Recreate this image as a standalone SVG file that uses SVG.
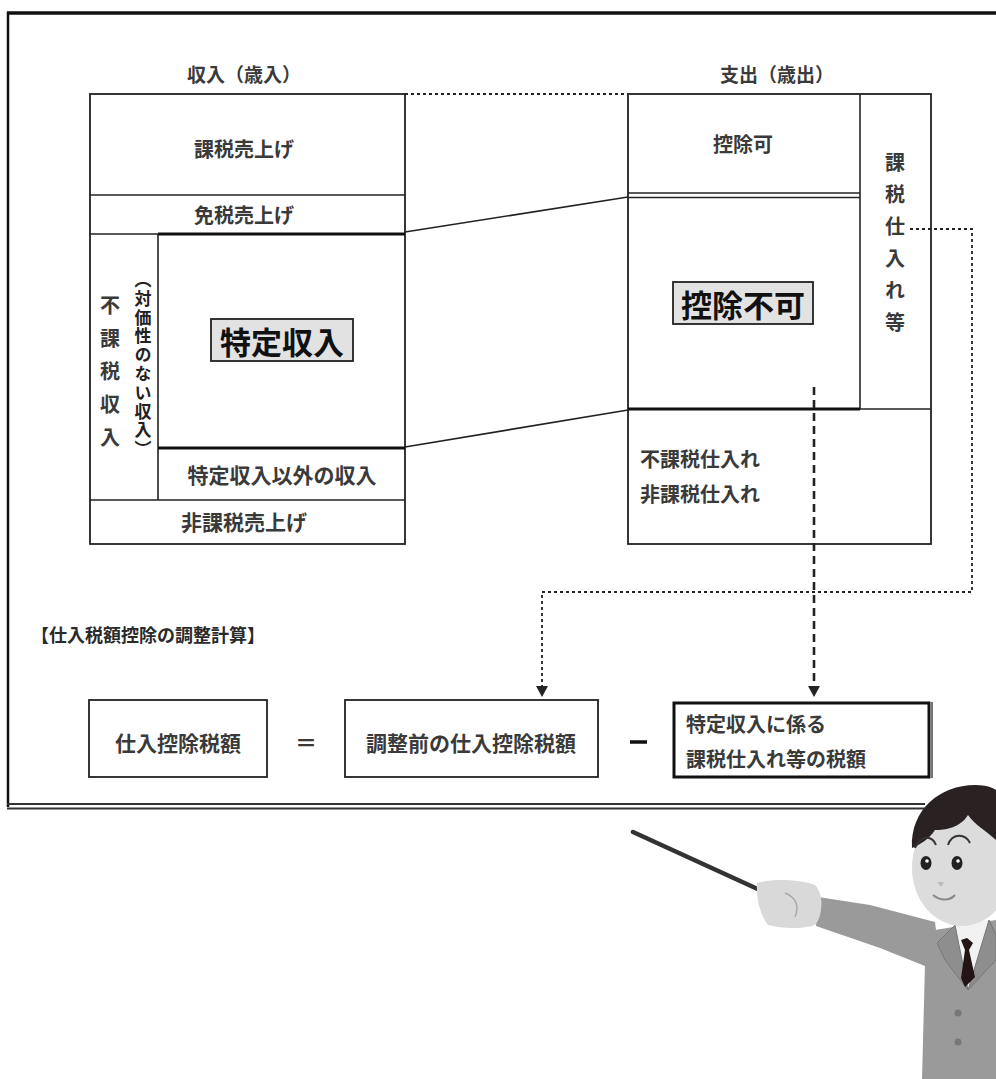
<svg xmlns="http://www.w3.org/2000/svg" width="996" height="1079" viewBox="0 0 996 1079">
  <defs>
    <style>
      .t { font-family: "Noto Sans CJK JP", "Noto Sans", sans-serif; font-weight: bold; fill: #3a3a3a; }
      .c { text-anchor: middle; dominant-baseline: central; }
      .v { writing-mode: vertical-rl; text-anchor: start; }
      .ln { stroke: #222; stroke-width: 1.6; fill: none; }
      .thick { stroke: #111; stroke-width: 3; fill: none; }
      .dot { stroke: #222; stroke-width: 1.8; stroke-dasharray: 3 3; fill: none; }
      .dash { stroke: #222; stroke-width: 2.6; stroke-dasharray: 8 5; fill: none; }
      .box { fill: #fff; stroke: #222; stroke-width: 1.8; }
      .head { fill: #222; }
    </style>
  </defs>

  <rect width="996" height="1079" fill="#fff"/>

  <!-- board frame -->
  <g id="board">
    <line x1="7" y1="13" x2="996" y2="13" stroke="#111" stroke-width="3.5"/>
    <line x1="8" y1="12" x2="8" y2="807" stroke="#111" stroke-width="2.5"/>
    <line x1="7" y1="804" x2="925" y2="804" stroke="#333" stroke-width="1.8"/>
    <line x1="7" y1="808.5" x2="925" y2="808.5" stroke="#333" stroke-width="1.8"/>
  </g>

  <!-- revenue column -->
  <g id="revenue">
    <text class="t c" x="244" y="73" font-size="19">収入（歳入）</text>
    <rect class="box" x="90" y="94" width="315" height="450"/>
    <line class="ln" x1="90" y1="195" x2="405" y2="195"/>
    <text class="t c" x="244" y="148" font-size="20">課税売上げ</text>
    <text class="t c" x="244" y="214" font-size="20">免税売上げ</text>
    <line class="ln" x1="90" y1="234" x2="158" y2="234"/>
    <line class="thick" x1="158" y1="234" x2="405" y2="234"/>
    <line class="ln" x1="158" y1="234" x2="158" y2="500"/>
    <line class="thick" x1="158" y1="448" x2="405" y2="448"/>
    <line class="ln" x1="90" y1="500" x2="405" y2="500"/>
    <text class="t c" x="282" y="474" font-size="21">特定収入以外の収入</text>
    <text class="t c" x="244" y="521" font-size="21">非課税売上げ</text>
    <!-- vertical labels -->
    <text class="t v" x="110" y="295" font-size="20" letter-spacing="13">不課税収入</text>
    <text class="t v" x="143" y="271" font-size="17" letter-spacing="1.8" style="fill:#222">（対価性のない収入）</text>
  </g>

  <g id="specific-income">
    <rect x="211" y="319" width="142" height="42" fill="#e2e2e2" stroke="#222" stroke-width="1.8"/>
    <text class="t c" x="282" y="340" font-size="31" style="fill:#111">特定収入</text>
  </g>

  <!-- expenditure column -->
  <g id="expenditure">
    <text class="t c" x="777" y="73" font-size="19">支出（歳出）</text>
    <rect class="box" x="628" y="94" width="303" height="450"/>
    <line class="ln" x1="860" y1="94" x2="860" y2="409"/>
    <line class="ln" x1="628" y1="193" x2="860" y2="193"/>
    <line class="ln" x1="628" y1="197.5" x2="860" y2="197.5"/>
    <text class="t c" x="743" y="143" font-size="20">控除可</text>
    <line class="thick" x1="628" y1="409" x2="860" y2="409"/>
    <line class="ln" x1="860" y1="409" x2="931" y2="409"/>
    <text class="t" x="640" y="467" font-size="20">不課税仕入れ</text>
    <text class="t" x="640" y="502" font-size="20">非課税仕入れ</text>
    <text class="t v" x="895" y="152" font-size="20" letter-spacing="12">課税仕入れ等</text>
  </g>

  <g id="non-deductible">
    <rect x="673" y="282" width="140" height="42" fill="#e2e2e2" stroke="#222" stroke-width="1.8"/>
    <text class="t c" x="743" y="303" font-size="31" style="fill:#111">控除不可</text>
  </g>

  <!-- adjustment formula -->
  <g id="formula-title">
    <text class="t" x="31" y="642" font-size="18" style="fill:#2a2a2a">【仕入税額控除の調整計算】</text>
  </g>
  <g id="deduction">
    <rect class="box" x="89" y="700" width="178" height="77"/>
    <text class="t c" x="178" y="742" font-size="21">仕入控除税額</text>
  </g>
  <g id="equals">
    <text class="t c" x="306" y="741" font-size="22">＝</text>
  </g>
  <g id="before-adjust">
    <rect class="box" x="345" y="700" width="253" height="77"/>
    <text class="t c" x="471" y="742" font-size="21">調整前の仕入控除税額</text>
  </g>
  <g id="minus">
    <line x1="630" y1="742" x2="647" y2="742" stroke="#111" stroke-width="3.5"/>
  </g>
  <g id="specific-tax">
    <rect x="674" y="703" width="255" height="74" fill="#fff" stroke="#111" stroke-width="3"/>
    <line x1="932" y1="702" x2="932" y2="778" stroke="#444" stroke-width="1.5"/>
    <text class="t" x="686" y="732" font-size="20">特定収入に係る</text>
    <text class="t" x="686" y="767" font-size="20">課税仕入れ等の税額</text>
  </g>

  <!-- connectors -->
  <g id="connectors">
    <line class="dot" x1="405" y1="94" x2="628" y2="94"/>
    <line class="ln" x1="405" y1="232" x2="628" y2="197"/>
    <line class="ln" x1="405" y1="447" x2="628" y2="410"/>
    <polyline class="dot" points="910,229 972,229 972,592 542,592 542,688"/>
    <path class="head" d="M536,686 L548,686 L542,697 Z"/>
    <line class="dash" x1="814" y1="387" x2="814" y2="688"/>
    <path class="head" d="M808,686 L820,686 L814,697 Z"/>
  </g>

  <!-- presenter figure -->
  <g id="presenter">
    <!-- pointer -->
    <line x1="633" y1="832" x2="762" y2="891" stroke="#333" stroke-width="4.5" stroke-linecap="round"/>
    <!-- body -->
    <path d="M922,1079 L925,965 L935,930 L996,920 L996,1079 Z" fill="#9a9a9a"/>
    <!-- arm -->
    <path d="M818,897 L870,905 L935,922 L940,962 L925,966 L880,948 L816,926 Z" fill="#9a9a9a"/>
    <!-- hand -->
    <path d="M757,883 C775,878 800,880 815,885 C825,895 822,918 815,925 C800,930 780,928 768,925 C760,915 756,898 757,883 Z" fill="#d9d9d9"/>
    <path d="M785,893 C795,897 800,905 795,917" stroke="#aaa" stroke-width="1.5" fill="none"/>
    <!-- shirt and tie -->
    <path d="M954,925 L990,920 L985,950 L968,990 L958,955 Z" fill="#f2f2f2"/>
    <path d="M937,943 L955,925 L968,990 L945,960 Z" fill="#8e8e8e" stroke="#777" stroke-width="1"/>
    <path d="M989,920 L996,935 L996,960 L968,990 Z" fill="#8e8e8e" stroke="#777" stroke-width="1"/>
    <path d="M961,940 L967,938 L973,943 L969,950 L975,977 L965,987 L961,978 L965,950 Z" fill="#231515"/>
    <circle cx="958" cy="1013" r="3.5" fill="#777"/>
    <circle cx="958" cy="1042" r="3.5" fill="#777"/>
    <!-- head -->
    <ellipse cx="962" cy="868" rx="50" ry="58" fill="#dcdcdc"/>
    <path d="M912,848 C910,810 940,785 975,785 C990,785 996,790 996,790 L996,840 C985,830 975,825 968,815 C960,828 945,830 935,830 C930,838 920,845 912,848 Z" fill="#2a2222"/>
    <path d="M915,848 C920,835 932,835 936,845" stroke="#333" stroke-width="2" fill="none"/>
    <path d="M948,845 C952,833 965,833 970,843" stroke="#333" stroke-width="2" fill="none"/>
    <ellipse cx="926" cy="863" rx="5.5" ry="7" fill="#222"/>
    <ellipse cx="957" cy="863" rx="5.5" ry="7" fill="#222"/>
    <circle cx="927" cy="861" r="1.8" fill="#fff"/>
    <circle cx="958" cy="861" r="1.8" fill="#fff"/>
    <path d="M937,882 L944,882 L941,887 Z" fill="#bbb"/>
    <path d="M933,895 C940,901 950,901 955,895" stroke="#888" stroke-width="2" fill="none"/>
  </g>
</svg>
